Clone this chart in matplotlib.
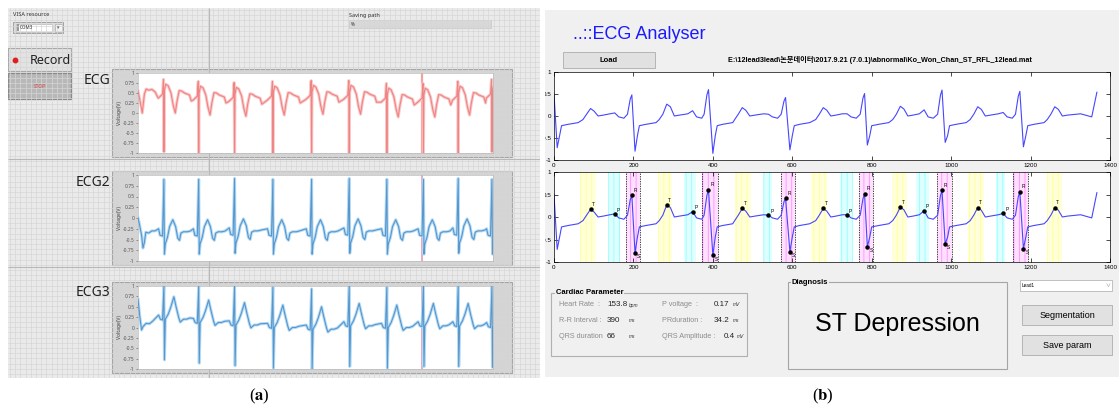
import numpy as np
import matplotlib.pyplot as plt
from matplotlib.patches import Rectangle

plt.rcParams['mathtext.fontset'] = 'stix'
plt.rcParams['hatch.linewidth'] = 0.7

W, H = 1119, 412
LV = ['Noto Sans', 'DejaVu Sans']
ML = ['Liberation Sans', 'Noto Sans CJK KR', 'DejaVu Sans']

# ---------------- (a) LabVIEW traces, x in 0..1000 ----------------
a_spikes = [73, 171, 272, 380, 489, 595, 701, 804, 902, 997]
a_cursor = 800

# ECG (red) beat shape around each spike
ecg1_dx = [-16, -10, -4, -1.2, 0, 1.2, 5, 12, 20, 26, 32, 37, 43, 50, 58, 66, 72, 77]
ecg1_v = [0.37, 0.42, 0.47, 0.84, -0.97, 0.55, 0.72, 0.68, 0.5, 0.2, 0.0, 0.3, 0.56, 0.55, 0.5, 0.47, 0.45, 0.3]
ecg1_shift = [0.0, -0.05, -0.08, -0.05, -0.03, -0.03, -0.1, -0.1, -0.05, 0.0]
ecg1_lead_x = [0, 4, 12, 18, 23, 30, 39, 48]
ecg1_lead_y = [0.55, 0.38, 0.0, 0.47, 0.6, 0.57, 0.59, 0.53]

# ECG2 (blue)
ecg2_dx = [-15, -11, -4, 0, 1.5, 4, 10, 16, 25, 33, 39, 44, 48, 55, 66, 75]
ecg2_v = [-0.25, -0.4, -0.42, 0.9, -0.84, -0.6, -0.45, -0.2, -0.04, -0.2, -0.47, -0.52, -0.35, -0.32, -0.32, -0.3]
ecg2_shift = [0.0, 0.0, 0.02, 0.0, 0.0, 0.02, 0.0, 0.0, 0.02, 0.0]
ecg2_lead_x = [0, 3, 10, 14, 18, 22, 30, 39, 48]
ecg2_lead_y = [0.0, -0.1, -0.4, -0.7, -0.57, -0.33, -0.35, -0.3, -0.3]

# ECG3 (blue)
ecg3_dx = [-15, -10, -4, 0, 1.5, 4, 12, 19, 28, 34, 42, 46, 55, 64, 73]
ecg3_v = [0.12, 0.02, 0.0, 0.99, -0.96, 0.02, 0.14, 0.3, 0.56, 0.33, 0.05, -0.05, 0.02, 0.02, 0.05]
ecg3_shift = [0.18, 0.1, 0.04, -0.02, -0.06, 0.02, -0.02, 0.02, 0.02, 0.0]
ecg3_lead_x = [0, 5, 10, 14, 23, 32, 41]
ecg3_lead_y = [0.68, 0.27, -0.06, 0.02, 0.1, 0.09, 0.15]

# ---------------- (b) MATLAB trace, x in 0..1400 ----------------
r_x = [0, 196, 389, 583, 782, 977, 1173]
r_y = [0.5, 0.48, 0.6, 0.42, 0.51, 0.59, 0.56]
s_x = [8, 204, 400, 594, 789, 985, 1182]
s_y = [-0.72, -0.8, -0.85, -0.77, -0.66, -0.6, -0.7]
t_x = [92, 284, 474, 678, 872, 1067, 1261]
t_y = [0.17, 0.27, 0.19, 0.19, 0.22, 0.21, 0.21]
p_x = [153, 349, 540, 738, 932, 1131]
p_y = [0.07, 0.12, 0.04, 0.05, 0.14, 0.08]
tail_x = [1326, 1354, 1367]
tail_y = [0.05, -0.02, 0.54]

t_spans = [(65, 106), (261, 298), (457, 497), (648, 688), (852, 889), (1042, 1083), (1241, 1280)]
p_spans = [(137, 167), (328, 358), (525, 550), (719, 752), (911, 944), (1113, 1136)]
qrs_spans = [(181, 217), (372, 414), (571, 608), (768, 803), (965, 1002), (1156, 1194)]


def build_a(dx, v, shift, lead_x, lead_y):
    xs, ys = list(lead_x), list(lead_y)
    for s, b in zip(a_spikes, shift):
        for d, val in zip(dx, v):
            xs.append(s + d)
            ys.append(max(-1, min(1, val + b)))
    return xs, ys


def build_b():
    xs, ys = [], []
    for i in range(len(r_x)):
        pts = [(r_x[i], r_y[i]), (s_x[i], s_y[i]), (s_x[i] + 6, -0.45), (s_x[i] + 11, -0.22),
               (r_x[i] + 35, -0.19), (r_x[i] + 61, -0.15),
               (t_x[i] - 19, -0.08), (t_x[i] - 10, 0.04), (t_x[i], t_y[i]),
               (t_x[i] + 9, t_y[i] - 0.06), (t_x[i] + 19, 0.0), (t_x[i] + 32, 0.02)]
        if i < len(p_x):
            pts += [(p_x[i] - 12, 0.05), (p_x[i], p_y[i]), (p_x[i] + 10, -0.02),
                    (p_x[i] + 23, -0.05), (r_x[i + 1] - 11, 0.04), (r_x[i + 1] - 4, r_y[i + 1] * 0.8)]
        for x, y in pts:
            xs.append(x)
            ys.append(y)
    xs += tail_x
    ys += tail_y
    return xs, ys


def box(x0, y0, x1, y1):
    return [x0 / W, 1 - y1 / H, (x1 - x0) / W, (y1 - y0) / H]


def rect(ax, x0, y0, x1, y1, fc, ec, lw=0.6, **kw):
    ax.add_patch(Rectangle((x0, y0), x1 - x0, y1 - y0, fc=fc, ec=ec, lw=lw, **kw))


fig = plt.figure(figsize=(11.19, 4.12), dpi=100)
base = fig.add_axes([0, 0, 1, 1])
base.set_xlim(0, W)
base.set_ylim(H, 0)
base.axis('off')

# ================= panel (a) =================
ga = fig.add_axes(box(8, 8, 540, 378))
ga.set_xlim(8, 540)
ga.set_ylim(378, 8)
ga.set_facecolor('#eaeaea')
ga.vlines(np.arange(10, 540, 5.2), 8, 378, color='#d6d6d6', lw=0.5)
ga.hlines(np.arange(10, 378, 5.2), 8, 540, color='#d6d6d6', lw=0.5)
ga.vlines([209], 8, 378, color='#b8b8b8', lw=0.8)
ga.hlines([159, 267], 8, 540, color='#b8b8b8', lw=0.8)
ga.set_xticks([])
ga.set_yticks([])
for sp in ga.spines.values():
    sp.set_visible(False)

ga.text(13, 14, 'VISA resource', fontsize=4, family=LV, va='center', color='#333')
rect(ga, 13, 22, 63, 33, '#dcdcdc', '#999999')
rect(ga, 16, 23.5, 52, 31.5, 'white', '#aaaaaa', lw=0.4)
rect(ga, 16.5, 24, 19, 31, '#9a9a9a', 'none')
ga.text(20, 27.5, 'COM3', fontsize=3.3, family=LV, va='center', color='#333')
rect(ga, 55, 23.5, 62, 31.5, '#f4f4f4', '#999999', lw=0.4)
ga.text(58.5, 27.5, '\u25be', fontsize=3.5, ha='center', va='center', color='#666')

rect(ga, 8, 48, 71, 71, '#e2e2e2', '#a8a8a8', lw=0.8)
ga.plot(15, 60, 'o', color='#e02020', ms=3.2)
ga.text(30, 60, 'Record', fontsize=9, family=LV, va='center', color='#222')
rect(ga, 8, 73, 71, 99, '#b8b8b8', '#8a8a8a', lw=0.9)
ga.text(39.5, 86, 'STOP', fontsize=3.5, family=LV, ha='center', va='center', color='#e04040')

ga.text(349, 15, 'Saving path', fontsize=4, family=LV, va='center', color='#333')
rect(ga, 349, 20, 491, 28, '#d8d8d8', '#c0c0c0', lw=0.4)
ga.text(351, 24, '%', fontsize=3.3, family=LV, va='center', color='#333')

charts = [
    ('ECG', 69, 157, 73, 153, build_a(ecg1_dx, ecg1_v, ecg1_shift, ecg1_lead_x, ecg1_lead_y), 'red'),
    ('ECG2', 171, 265, 175, 261, build_a(ecg2_dx, ecg2_v, ecg2_shift, ecg2_lead_x, ecg2_lead_y), 'blue'),
    ('ECG3', 282, 373, 286, 369, build_a(ecg3_dx, ecg3_v, ecg3_shift, ecg3_lead_x, ecg3_lead_y), 'blue'),
]
yt = [1, 0.75, 0.5, 0.25, 0, -0.25, -0.5, -0.75, -1]
ytl = ['1', '0.75', '0.5', '0.25', '0', '-0.25', '-0.5', '-0.75', '-1']
for name, fy0, fy1, py0, py1, (xs, ys), tone in charts:
    rect(ga, 112, fy0, 512, fy1, '#d4d4d4', '#a5a5a5', lw=0.8)
    ga.text(110, fy0 + 11, name, fontsize=10, family=LV, ha='right', va='center', color='#222')
    ax = fig.add_axes(box(138, py0, 493, py1))
    ax.set_xlim(0, 1000)
    ax.set_ylim(-1, 1)
    ax.set_xticks([])
    ax.set_yticks(yt)
    ax.set_yticklabels(ytl, family=LV)
    ax.tick_params(axis='y', labelsize=3.6, length=1.5, pad=1, colors='#555555', width=0.4)
    ax.set_ylabel('Voltage(V)', fontsize=3.6, labelpad=1, family=LV, color='#444')
    for sp in ax.spines.values():
        sp.set_color('#bbbbbb')
        sp.set_linewidth(0.5)
    if tone == 'red':
        ax.axvline(a_cursor, color='#f3a0a0', lw=1.6, zorder=1)
        ax.plot(xs, ys, color='#fbc8c8', lw=2.2, zorder=2)
        ax.plot(xs, ys, color='#ef8484', lw=0.8, zorder=3)
    else:
        ax.axvline(a_cursor, color='#e7a3b6', lw=1.3, zorder=1)
        ax.plot(xs, ys, color='#b6dcf6', lw=2.2, zorder=2)
        ax.plot(xs, ys, color='#5896cc', lw=0.8, zorder=3)

base.text(259, 396, r'($\mathbf{a}$)', fontsize=12, family='Liberation Serif',
          ha='center', va='center')

# ================= panel (b) =================
rect(base, 545, 10, 1119, 377, '#f0f0f0', 'none', lw=0)
base.text(573, 34, '..::ECG Analyser', fontsize=13, family=ML, color='#1a1aff', va='center')
rect(base, 563, 52, 655, 68, '#e1e1e1', '#adadad')
base.text(609, 60, 'Load', fontsize=5.5, family=ML, weight='bold', ha='center', va='center')
base.text(880, 60, r'E:\12lead3lead\논문데이터\2017.9.21 (7.0.1)\abnormal\Ko_Won_Chan_ST_RFL_12lead.mat',
          fontsize=5.2, family=ML, weight='bold', ha='center', va='center')

bx, by = build_b()
for k, (y0, y1) in enumerate([(72, 160), (172, 262)]):
    ax = fig.add_axes(box(554, y0, 1110, y1))
    ax.set_xlim(0, 1400)
    ax.set_ylim(-1, 1)
    ax.set_xticks(range(0, 1401, 200))
    ax.set_yticks([-1, -0.5, 0, 0.5, 1])
    ax.set_yticklabels(['-1', '-0.5', '0', '0.5', '1'])
    ax.tick_params(direction='in', top=True, right=True, labelsize=4.5, length=3, pad=2, width=0.5)
    for lab in ax.get_xticklabels() + ax.get_yticklabels():
        lab.set_family(ML)
    for sp in ax.spines.values():
        sp.set_linewidth(0.5)
    if k == 1:
        for a, b in t_spans:
            ax.axvspan(a, b, fc='#ffffdc', ec='#ffff99', hatch='|||', lw=0, zorder=0)
        for a, b in p_spans:
            ax.axvspan(a, b, fc='#e0ffff', ec='#99ffff', hatch='|||', lw=0, zorder=0)
        for a, b in qrs_spans:
            ax.axvspan(a, b, fc='#ffe0ff', ec='#ff99ff', hatch='|||', lw=0, zorder=0)
            ax.axvline(a, color='black', ls=(0, (2, 1.5)), lw=0.5, zorder=1)
            ax.axvline(b, color='black', ls=(0, (2, 1.5)), lw=0.5, zorder=1)
    ax.plot(bx, by, color='#4646ff', lw=0.8, zorder=2)
    if k == 1:
        mx = t_x + p_x + r_x[1:] + s_x[1:]
        my = t_y + p_y + r_y[1:] + s_y[1:]
        ax.plot(mx, my, 'o', color='black', ms=2.2, zorder=3)
        for x, y in zip(t_x, t_y):
            ax.text(x + 3, y + 0.07, 'T', fontsize=3.5, family=ML, zorder=4)
        for x, y in zip(p_x, p_y):
            ax.text(x + 5, y + 0.05, 'P', fontsize=3.5, family=ML, zorder=4)
        for x, y in zip(r_x[1:], r_y[1:]):
            ax.text(x + 5, y + 0.08, 'R', fontsize=3.5, family=ML, zorder=4)
        for x, y in zip(s_x[1:], s_y[1:]):
            ax.text(x + 5, y - 0.12, 'S', fontsize=3.5, family=ML, zorder=4)

# cardiac parameter box
rect(base, 551, 293, 747, 356, 'none', '#b0b0b0', lw=0.8)
base.text(556, 293, 'Cardiac Parameter', fontsize=5.5, family=ML, weight='bold', va='center',
          bbox=dict(fc='#f0f0f0', ec='none', pad=0.6))
rows = [
    (305, 'Heart Rate  :', '153.8', 'bpm', 'P voltage  :', '0.17', 'mV', 714, 733),
    (321, 'R-R Interval :', '390', 'ms', 'PRduration :', '34.2', 'ms', 714, 733),
    (337, 'QRS duration', '66', 'ms', 'QRS Amplitude :', '0.4', 'mV', 724, 737),
]
for y, l1, v1, u1, l2, v2, u2, vx, ux in rows:
    base.text(559, y, l1, fontsize=5.2, family=ML, color='#8c8c8c', va='center')
    base.text(607, y, v1, fontsize=5.8, family=ML, color='#222', va='center')
    base.text(629, y, u1, fontsize=3.5, family=ML, color='#333', va='center', style='italic')
    base.text(662, y, l2, fontsize=5.2, family=ML, color='#8c8c8c', va='center')
    base.text(vx, y, v2, fontsize=5.8, family=ML, color='#222', va='center')
    base.text(ux, y, u2, fontsize=3.5, family=ML, color='#333', va='center', style='italic')

# diagnosis
rect(base, 788, 282, 1007, 369, 'none', '#a5a5a5', lw=0.8)
base.text(792, 282, 'Diagnosis', fontsize=5.5, family=ML, weight='bold', va='center',
          bbox=dict(fc='#f0f0f0', ec='none', pad=0.6))
base.text(897, 324, 'ST Depression', fontsize=18, family=ML, ha='center', va='center')

# right-hand controls
rect(base, 1020, 280, 1112, 291, 'white', '#aaaaaa', lw=0.5)
base.text(1022, 285.5, 'Lead1', fontsize=3.3, family=ML, va='center')
base.text(1108, 285.5, '\u2228', fontsize=3.5, family=ML, va='center', ha='center', color='#777')
rect(base, 1022, 305, 1112, 325, '#e1e1e1', '#adadad')
base.text(1067, 315, 'Segmentation', fontsize=6.5, family=ML, ha='center', va='center')
rect(base, 1022, 335, 1112, 355, '#e1e1e1', '#adadad')
base.text(1067, 345, 'Save param', fontsize=6.5, family=ML, ha='center', va='center')

base.text(823, 396, r'($\mathbf{b}$)', fontsize=12, family='Liberation Serif',
          ha='center', va='center')

# white gap between the two screenshots
fig.add_artist(Rectangle((540 / W, 0), 5 / W, 1, transform=fig.transFigure,
                         fc='white', ec='none', zorder=5))

fig.savefig('out.png', dpi=100)
